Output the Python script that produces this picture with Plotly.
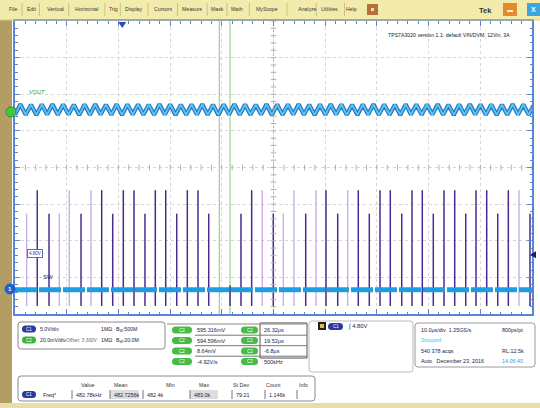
import plotly.graph_objects as go

W, H = 540, 408
FONT = "Liberation Sans"

# ---------------- data ----------------
time_per_div_us = 10.0          # horizontal scale
x_range_us = [-50.0, 50.0]
y_range_div = [-4.0, 4.0]

ch1_volts_per_div = 5.0         # SW node
ch1_ground_div = -3.34
ch2_mv_per_div = 20.0           # VOUT (offset 3.300 V)
ch2_center_div = 1.58

# SW pulses: time (µs), peak (V), shade (d = dark, l = light persistence)
sw_pulse_time_us = [-47.74, -45.69, -43.42, -41.43, -39.50, -37.23, -35.30, -33.23,
                    -31.10, -29.05, -26.98, -24.86, -22.86, -20.85, -18.72, -16.67,
                    -14.60, -12.53, -8.41, -6.29, -4.22, -2.17, -0.04, 1.90,
                    3.97, 6.23, 8.22, 10.15, 12.42, 14.35, 16.40, 18.53,
                    20.60, 22.59, 24.80, 26.79, 28.78, 30.91, 32.98, 35.05,
                    37.18, 39.17, 41.24, 43.37, 45.42, 47.49, 49.61]
sw_pulse_peak_v = [10.4, 13.6, 10.4, 10.4, 13.6, 10.4, 13.6, 13.6,
                   10.4, 13.6, 13.6, 10.4, 13.6, 13.6, 10.4, 13.6,
                   13.6, 10.4, 0.6, 10.4, 13.6, 13.6, 10.4, 10.4,
                   13.6, 10.4, 13.6, 13.6, 10.4, 13.6, 13.6, 10.4,
                   13.6, 13.6, 10.4, 13.6, 13.6, 10.4, 13.6, 13.6,
                   10.4, 13.6, 13.6, 10.4, 13.6, 13.6, 10.4]
sw_pulse_shade = ["l", "d", "d", "l", "l", "d", "l", "d",
                  "d", "d", "d", "d", "d", "d", "d", "d",
                  "d", "d", "d", "d", "d", "l", "d", "l",
                  "l", "d", "l", "d", "d", "l", "d", "d",
                  "d", "d", "d", "d", "d", "d", "d", "d",
                  "d", "d", "d", "d", "d", "l", "d"]
sw_undershoot_v = -2.2
sw_idle_v = 0.0

# VOUT ripple: triangle vertices (mV around the offset), sampled every half period
vout_t0_us = -50.0
vout_dt_us = 1.035
vout_ripple_mv = [-2.8, 2.9, -2.8, 2.7, -2.9, 2.8, -2.7, 2.9, -2.8, 2.8,
                  -2.7, 2.7, -2.9, 2.8, -2.8, 2.9, -2.7, 2.7, -2.8, 2.9,
                  -2.9, 2.8, -2.7, 2.8, -2.8, 2.7, -2.8, 2.9, -2.7, 2.8,
                  -2.9, 2.7, -2.8, 2.8, -2.7, 2.9, -2.8, 2.7, -2.9, 2.8,
                  -2.7, 2.9, -2.8, 2.8, -2.8, 2.7, -2.7, 2.9, -2.9, 2.8,
                  -2.8, 2.8, -2.7, 2.9, -2.8, 2.7, -2.9, 2.8, -2.8, 2.9,
                  -2.7, 2.8, -2.8, 2.7, -2.9, 2.8, -2.7, 2.9, -2.8, 2.8,
                  -2.8, 2.7, -2.9, 2.9, -2.7, 2.8, -2.8, 2.8, -2.7, 2.9,
                  -2.8, 2.7, -2.9, 2.8, -2.8, 2.9, -2.7, 2.8, -2.8, 2.8,
                  -2.9, 2.7, -2.8, 2.9, -2.7, 2.8, -2.8, 2.8]

cursor_time_us = [-10.48, -8.41]
trigger_time_us = -29.3
trigger_level_v = 4.8

menu_labels = ["File", "Edit", "Vertical", "Horizontal", "Trig", "Display", "Cursors",
               "Measure", "Mask", "Math", "MyScope", "Analyze", "Utilities", "Help"]
menu_x = [13, 31, 55, 86, 113, 133, 163, 192, 217, 237, 267, 307, 329, 351]

ch_rows = [
    ("C1", "#2a3a9e", "5.0V/div", "", "1MΩ", "B<sub>W</sub>:500M"),
    ("C2", "#3cb43c", "20.0mV/div", "Offset: 3.300V", "1MΩ", "B<sub>W</sub>:20.0M"),
]
meas_left = ["595.316mV", "594.596mV", "8.64mV", "-4.92V/s"]
meas_right = ["26.32µs", "19.52µs", "-6.8µs", "500kHz"]
trig_text = "4.80V"
acq_rows = [("10.0µs/div  1.25GS/s", "800ps/pt"), ("Stopped", ""),
            ("540 378 acqs", "RL:12.5k"), ("Auto   December 23, 2016", "14:06:40")]
table_head = ["Value", "Mean", "Min", "Max", "St Dev", "Count", "Info"]
table_row = ["482.78kHz", "482.7256k", "482.4k", "483.0k", "79.21", "1.146k", ""]
title_note = "TPS7A3020 version 1.1: default VIN/DVM, 12Vin, 3A"

# ---------------- helpers ----------------
def X(p):
    return p / W


def Y(p):
    return 1 - p / H


def sw_div(v):
    return v / ch1_volts_per_div + ch1_ground_div


def vout_div(mv):
    return mv / ch2_mv_per_div + ch2_center_div


shapes = []
annotations = []


def rect(x0, y0, x1, y1, fill, line=None, lw=1, layer="above"):
    shapes.append(dict(type="rect", xref="paper", yref="paper",
                       x0=X(x0), x1=X(x1), y0=Y(y1), y1=Y(y0),
                       fillcolor=fill, layer=layer,
                       line=dict(color=line or "rgba(0,0,0,0)", width=lw if line else 0)))


def rrect(x0, y0, x1, y1, r, fill, line=None, lw=1):
    p = (f"M{X(x0 + r)},{Y(y0)} L{X(x1 - r)},{Y(y0)} Q{X(x1)},{Y(y0)} {X(x1)},{Y(y0 + r)} "
         f"L{X(x1)},{Y(y1 - r)} Q{X(x1)},{Y(y1)} {X(x1 - r)},{Y(y1)} "
         f"L{X(x0 + r)},{Y(y1)} Q{X(x0)},{Y(y1)} {X(x0)},{Y(y1 - r)} "
         f"L{X(x0)},{Y(y0 + r)} Q{X(x0)},{Y(y0)} {X(x0 + r)},{Y(y0)} Z")
    shapes.append(dict(type="path", xref="paper", yref="paper", path=p,
                       fillcolor=fill,
                       line=dict(color=line or "rgba(0,0,0,0)", width=lw if line else 0)))


def hline(x0, x1, y, color, w=1):
    shapes.append(dict(type="line", xref="paper", yref="paper",
                       x0=X(x0), x1=X(x1), y0=Y(y), y1=Y(y),
                       line=dict(color=color, width=w)))


def vline(x, y0, y1, color, w=1):
    shapes.append(dict(type="line", xref="paper", yref="paper",
                       x0=X(x), x1=X(x), y0=Y(y0), y1=Y(y1),
                       line=dict(color=color, width=w)))


def txt(x, y, s, size=6, color="#1c1c48", anchor="left", bold=False, italic=False, family=FONT):
    if not s:
        return
    if bold:
        s = f"<b>{s}</b>"
    if italic:
        s = f"<i>{s}</i>"
    annotations.append(dict(x=X(x), y=Y(y), xref="paper", yref="paper", text=s,
                            showarrow=False, xanchor=anchor, yanchor="middle",
                            font=dict(family=family, size=size, color=color)))


def pill(x0, y0, x1, y1, fill, label):
    rrect(x0, y0, x1, y1, (y1 - y0) / 2, fill)
    txt((x0 + x1) / 2, (y0 + y1) / 2, label, size=4.5, color="white", anchor="center")


# ---------------- traces ----------------
fig = go.Figure()

# cursors
for ct in cursor_time_us:
    fig.add_trace(go.Scatter(x=[ct, ct], y=y_range_div, mode="lines",
                             line=dict(color="#96d48e", width=1.2),
                             hoverinfo="skip", showlegend=False))

# SW pulses
for shade, color, width in (("l", "#c9aeea", 1.4), ("d", "#4a2a90", 1.5)):
    xs, ys = [], []
    for t, pk, s in zip(sw_pulse_time_us, sw_pulse_peak_v, sw_pulse_shade):
        if s != shade:
            continue
        xs += [t, t, None]
        ys += [sw_div(sw_undershoot_v), sw_div(pk), None]
    fig.add_trace(go.Scatter(x=xs, y=ys, mode="lines",
                             line=dict(color=color, width=width),
                             hoverinfo="skip", showlegend=False))

# SW idle level (thick channel-1 trace)
fig.add_trace(go.Scatter(x=x_range_us, y=[sw_div(sw_idle_v)] * 2, mode="lines",
                         line=dict(color="#1e9ee2", width=5, dash="22px,2px"),
                         hoverinfo="skip", showlegend=False))

# VOUT ripple
vt = [vout_t0_us + i * vout_dt_us for i in range(len(vout_ripple_mv))]
vy = [vout_div(v) for v in vout_ripple_mv]
fig.add_trace(go.Scatter(x=vt, y=vy, mode="lines",
                         line=dict(color="#2478c0", width=4.2),
                         hoverinfo="skip", showlegend=False))
fig.add_trace(go.Scatter(x=vt, y=vy, mode="lines",
                         line=dict(color="#5ec4f2", width=1.8),
                         hoverinfo="skip", showlegend=False))

# center-axis tick marks
cx = [x_range_us[0] + i * time_per_div_us / 5 for i in range(51)]
fig.add_trace(go.Scatter(x=cx, y=[0] * len(cx), mode="markers",
                         marker=dict(symbol="line-ns", size=4, line=dict(color="#b0b0b0", width=1)),
                         hoverinfo="skip", showlegend=False))
cy = [y_range_div[0] + i * 0.2 for i in range(41)]
fig.add_trace(go.Scatter(x=[0] * len(cy), y=cy, mode="markers",
                         marker=dict(symbol="line-ew", size=4, line=dict(color="#b0b0b0", width=1)),
                         hoverinfo="skip", showlegend=False))

# center lines
shapes.append(dict(type="line", xref="x", yref="y", x0=x_range_us[0], x1=x_range_us[1], y0=0, y1=0,
                   line=dict(color="#b4b4b4", width=1, dash="dot"), layer="below"))
shapes.append(dict(type="line", xref="x", yref="y", x0=0, x1=0, y0=y_range_div[0], y1=y_range_div[1],
                   line=dict(color="#b4b4b4", width=1, dash="dot"), layer="below"))

# ---------------- frame / chrome ----------------
rect(0, 0, 540, 20, "#f2ebab", layer="below")
rect(0, 20, 12, 408, "#b49d62", layer="below")
rect(0, 403, 540, 408, "#e9ddab", layer="below")
hline(0, 540, 20, "#d8cf8a", 1)

for i, (lab, mx) in enumerate(zip(menu_labels, menu_x)):
    txt(mx, 9, lab, size=5.2, color="#3a3a3a", anchor="center")
    if i > 0:
        sx = (menu_x[i - 1] + mx) / 2 + (len(menu_labels[i - 1]) - len(lab)) * 0.9
        vline(sx, 3, 16, "#c9c08a", 1)
rect(367, 4, 378, 15, "#b8703a")
rect(371, 8, 374, 11, "#f4e0b0")
txt(485, 10, "Tek", size=7.5, color="#333333", anchor="center", bold=True)
rect(503, 3, 517, 16, "#e48a2a")
rect(507, 10, 513, 12, "#fff1d0")
rect(527, 3, 540, 16, "#3aa6e6")
txt(533, 9.5, "X", size=7, color="white", anchor="center", bold=True)

# trace labels & markers
txt(27, 92, "VOUT", size=5.5, color="#2e9a2e", italic=True)
txt(41, 277, "SW", size=6, color="#1c1c60")
annotations.append(dict(x=X(27), y=Y(253), xref="paper", yref="paper", text=trig_text,
                        showarrow=False, xanchor="left", yanchor="middle",
                        font=dict(family=FONT, size=4.5, color="#2a3a9e"),
                        bgcolor="white", bordercolor="#5a6abf", borderwidth=1, borderpad=1))
shapes.append(dict(type="circle", xref="paper", yref="paper",
                   x0=X(6), x1=X(16), y0=Y(117), y1=Y(107),
                   fillcolor="#44c844", line=dict(color="#2a9a2a", width=1)))
shapes.append(dict(type="circle", xref="paper", yref="paper",
                   x0=X(5), x1=X(15), y0=Y(294), y1=Y(284),
                   fillcolor="#1f5fd0", line=dict(color="#1f5fd0", width=1)))
txt(10, 289, "1", size=6, color="white", anchor="center", bold=True)

# trigger position (top) and level (right) markers
tx = X(15 + (trigger_time_us - x_range_us[0]) / time_per_div_us * 51.8)
shapes.append(dict(type="path", xref="paper", yref="paper",
                   path=f"M{tx - X(4)},{Y(22)} L{tx + X(4)},{Y(22)} L{tx},{Y(28)} Z",
                   fillcolor="#2a4ab0", line=dict(width=0)))
ly = (sw_div(trigger_level_v) - y_range_div[0]) / (y_range_div[1] - y_range_div[0])
shapes.append(dict(type="path", xref="paper", yref="y domain",
                   path=f"M{X(530)},{ly} L{X(536)},{ly + 0.012} L{X(536)},{ly - 0.012} Z",
                   fillcolor="#1c1c70", line=dict(width=0)))

txt(386, 35, title_note, size=5.2, color="#222222")

# panel 1: channel settings
rrect(18, 322, 165, 349, 3, "white", "#8a8a8a", 1)
for i, (lab, col, scale, off, imp, bw) in enumerate(ch_rows):
    yy = 329 + i * 11
    pill(22, yy - 3.5, 36, yy + 3.5, col, lab)
    txt(38, yy, scale, size=5.2)
    txt(64, yy, off, size=4.8, color="#666666", italic=True)
    txt(99, yy, imp, size=5.2)
    txt(114, yy, bw, size=5.2)

# panel 2: measurement / cursor readouts
rect(260, 323, 307, 358, "white", "#555555", 1)
hline(167, 307, 324, "#8a8a8a", 1)
for i, (lv, rv) in enumerate(zip(meas_left, meas_right)):
    yy = 330 + i * 10.5
    pill(172, yy - 3.5, 192, yy + 3.5, "#46bb46", "C2")
    txt(195, yy, lv, size=5.5)
    pill(241, yy - 3.5, 258, yy + 3.5, "#46bb46", "C2")
    txt(262, yy, rv, size=5.5)
    if i < 3:
        hline(195, 307, yy + 5.2, "#777777", 1)

# panel 3: trigger
rrect(309, 321, 413, 372, 3, "white", "#bcbcbc", 1)
rect(318, 322, 326, 330, "#222222")
rect(320, 324, 324, 328, "#e0c040")
pill(328, 323, 343, 330, "#2a3a9e", "C1")
txt(346, 326.5, "∫ " + trig_text, size=5.8)

# panel 4: acquisition
rrect(415, 323, 535, 367, 3, "white", "#9a9a9a", 1)
for i, (a, b) in enumerate(acq_rows):
    yy = 330 + i * 10.3
    col = "#48c8e8" if a == "Stopped" else "#1c1c48"
    txt(419, yy, a, size=5.4, color=col)
    txt(500, yy, b, size=5.4, color="#2aa0d8" if i == 3 else "#1c1c48")

# panel 5: measurement statistics table
rrect(18, 376, 315, 401, 3, "white", "#8a8a8a", 1)
head_x = [87, 121, 170, 204, 241, 273, 303]
cell_x = [72, 110, 143, 190, 232, 265, 297]
cell_w = [26, 29, 21, 28, 20, 20, 10]
for hx, hd in zip(head_x, table_head):
    txt(hx, 385, hd, size=5.4, color="#333333", anchor="center")
for i, (x0c, wc, val) in enumerate(zip(cell_x, cell_w, table_row)):
    if i in (1, 3):
        rect(x0c, 390, x0c + wc, 399, "#dedede")
    vline(x0c, 390, 399, "#777777", 1)
    txt(x0c + 2, 394.5, val, size=5.4)
pill(22, 391, 36, 398, "#2a3a9e", "C1")
txt(41, 394.5, "Freq*", size=5.4)

# ---------------- layout ----------------
axis_common = dict(showticklabels=False, showgrid=True, gridcolor="#d6d6d6", griddash="dot",
                   gridwidth=1, zeroline=False, showline=True, linecolor="#5a84d4", linewidth=2,
                   mirror="allticks", ticks="inside", tickcolor="#5a84d4", ticklen=5,
                   fixedrange=True)
fig.update_layout(
    width=W, height=H, margin=dict(l=0, r=0, t=0, b=0),
    paper_bgcolor="white", plot_bgcolor="white", showlegend=False,
    xaxis=dict(range=x_range_us, domain=[X(15), X(532)], dtick=time_per_div_us, tick0=0,
               minor=dict(dtick=time_per_div_us / 5, ticks="inside", ticklen=2.5,
                          tickcolor="#5a84d4", showgrid=False),
               **axis_common),
    yaxis=dict(range=y_range_div, domain=[Y(314), Y(21)], dtick=1, tick0=0,
               minor=dict(dtick=0.2, ticks="inside", ticklen=2.5,
                          tickcolor="#5a84d4", showgrid=False),
               **axis_common),
    shapes=shapes, annotations=annotations,
)

fig.write_html("out.html")
